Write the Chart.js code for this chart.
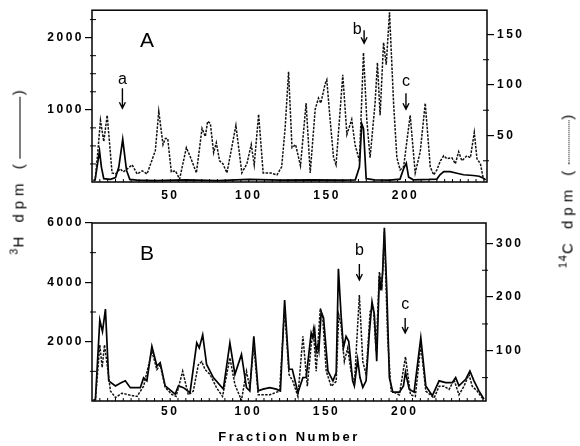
<!DOCTYPE html>
<html lang="en">
<head>
<meta charset="UTF-8">
<title>Fraction profiles A and B</title>
<script src="https://cdn.jsdelivr.net/npm/chart.js"></script>
<style>
  body { margin:0; background:#fff; width:580px; height:446px; position:relative; overflow:hidden; font-family:"Liberation Sans", Arial, sans-serif; }
  canvas { position:absolute; left:0; }
  #chartA { top:0; }
  #chartB { top:205px; }
  .ytitle { position:absolute; white-space:nowrap; font-size:15px; letter-spacing:5px; color:#000; transform:translate(-50%,-50%) rotate(-90deg); }
  .ytitle sup { font-size:11px; letter-spacing:1px; }
  .key { display:inline-block; vertical-align:middle; margin:0 1px; height:0; }
</style>
</head>
<body>

<canvas id="chartA" width="580" height="205"></canvas>
<canvas id="chartB" width="580" height="241"></canvas>
<div class="ytitle" style="left:17px; top:170px;"><sup>3</sup>H dpm (<span class="key" style="width:62px; border-top:1.5px solid #000;"></span>)</div>
<div class="ytitle" style="left:566px; top:189px;"><sup>14</sup>C dpm (<span class="key" style="width:44px; border-top:1.5px dotted #000;"></span>)</div>

<script>
// tick values
const xMajor = [50, 100, 150, 200];
const xMinor = [5,10,15,20,25,30,35,40,45,55,60,65,70,75,80,85,90,95,105,110,115,120,125,130,135,140,145,155,160,165,170,175,180,185,190,195,205,210,215,220,225,230,235,240,245,250];
const ticksA3H = [1000, 2000];
const minorA3H = [250, 500, 750, 1250, 1500, 1750, 2250];
const ticksA14C = [50, 100, 150];
const minorA14C = [25, 75, 125];
const ticksB3H = [2000, 4000, 6000];
const minorB3H = [1000, 3000, 5000];
const ticksB14C = [100, 200, 300];
const minorB14C = [50, 150, 250];

// panel A, 3H (solid)
const fracA3H = [1, 2, 4.8, 6, 7.5, 11.8, 15, 17.1, 19.6, 22, 24.1, 28.8, 40, 60, 80, 100, 120, 140, 160, 168, 170.6, 172.1, 173.2, 174.9, 180, 190, 196.5, 198.8, 200.5, 202, 205, 215, 220, 222, 224.4, 228.5, 232.8, 237, 243.3, 247, 249.4, 251];
const dpmA3H  = [30, 33, 431, 207, 47, 36, 60, 207, 591, 164, 36, 25, 20, 30, 20, 35, 25, 30, 25, 30, 207, 806, 740, 47, 30, 25, 40, 185, 260, 68, 30, 35, 40, 100, 143, 143, 121, 100, 90, 80, 57, 30];

// panel A, 14C (dotted)
const fracA14C = [1, 2, 3.5, 5.4, 7.5, 9.7, 12.8, 15, 18, 20, 22.5, 25.6, 28.8, 32, 35.1, 37.2, 40.4, 42.6, 45.3, 46.8, 48.3, 50.6, 53.2, 55.9, 60.2, 62.7, 66.6, 70.2, 72.3, 73.8, 75.5, 77.6, 79.3, 81.4, 83.5, 86.1, 91.8, 95.6, 98.8, 101.6, 103.5, 106.3, 109.2, 113.9, 118, 121, 123.2, 125.4, 127.6, 129.9, 133, 136.6, 139.2, 142.4, 144.5, 146, 148.7, 149.8, 151.9, 154.1, 155.7, 160, 162.6, 165.7, 167.8, 170.6, 173.2, 175.3, 177.4, 180.6, 182.1, 183.8, 186, 187.7, 189.8, 192.4, 194.5, 196.6, 198.8, 203, 206.2, 209.4, 212.6, 215.8, 218, 220, 222.3, 224.4, 226.5, 229.6, 231.8, 233.9, 236, 239.2, 241.4, 243.9, 245.6, 247.8, 249.4, 251];
const dpmA14C  = [5, 6, 30, 65, 44, 70, 13, 12, 17, 14, 17, 21, 12, 15, 12, 21, 35, 74, 41, 47, 47, 14, 15, 7, 38, 29, 13, 57, 49, 64, 62, 33, 43, 25, 22, 13, 60, 13, 22, 41, 21, 71, 13, 13, 11, 19, 57, 113, 38, 41, 20, 82, 13, 76, 87, 82, 101, 105, 66, 28, 21, 110, 51, 66, 41, 25, 132, 66, 28, 82, 122, 70, 142, 120, 172, 82, 28, 16, 19, 70, 13, 34, 82, 19, 11, 16, 25, 30, 27, 28, 22, 34, 25, 30, 28, 53, 27, 22, 9, 6];

// panel B, 3H (solid)
const fracB3H = [1, 2.2, 5, 6.7, 8.6, 10.7, 15, 18, 21.3, 24.5, 30.9, 33, 35.1, 38.3, 41.5, 43.6, 46.8, 53.2, 55.3, 58.5, 62.7, 67, 68.6, 70.8, 73.3, 77.6, 84, 88.2, 91.4, 95.6, 98.8, 100.9, 103.5, 106.3, 109.4, 113.7, 117.9, 120.5, 123.2, 126, 128.1, 131.7, 134.9, 137, 140.2, 141.3, 142.4, 143.4, 144.5, 145.1, 146.6, 148.1, 150.9, 154.1, 156.2, 157.6, 159.3, 160.8, 162.5, 164.2, 166.7, 167.8, 169.9, 171.4, 173.2, 175.3, 177.4, 179.1, 180.6, 182.1, 183.8, 184.8, 185.9, 187, 188.5, 190.2, 192.4, 196.6, 199.2, 200.5, 202.9, 206, 210.3, 213.5, 217.7, 222, 226.2, 230.5, 232.6, 234.7, 239, 241.7, 244.3, 247.5, 250.7];
const dpmB3H  = [30, 60, 2730, 2340, 3100, 680, 510, 600, 680, 450, 450, 780, 680, 1840, 1180, 1290, 510, 230, 510, 450, 280, 1960, 1790, 2230, 1230, 790, 400, 1960, 900, 1570, 450, 340, 2180, 340, 400, 450, 400, 340, 3400, 1070, 1070, 280, 790, 800, 2300, 2130, 2410, 1670, 1890, 1700, 3010, 2800, 1010, 680, 960, 4460, 2900, 1790, 2180, 2010, 680, 510, 1400, 790, 460, 680, 2300, 3340, 2900, 1340, 4230, 3730, 4340, 5840, 3800, 790, 300, 300, 510, 970, 400, 300, 2130, 510, 180, 680, 620, 620, 790, 510, 730, 1010, 680, 340, 60];

// panel B, 14C (dotted)
const fracB14C = [1, 2.2, 5, 6.5, 8, 9.7, 11.8, 15, 19.2, 23.5, 28.8, 33, 38.3, 41.5, 43.6, 46.8, 51, 53.8, 58, 61.6, 64.8, 68, 70.2, 72.3, 75.5, 79.7, 83.5, 88.2, 91.4, 95.6, 98.8, 100.9, 103.5, 106.3, 113.7, 120, 123.2, 126, 128.5, 131.7, 134.9, 137.7, 140.2, 141.6, 143.4, 146, 147.6, 149.8, 153, 156.2, 157.8, 159.3, 161.4, 163.5, 165.7, 167.8, 171, 173.2, 175.3, 177.9, 180, 181.7, 183.8, 185.5, 187, 189.1, 191.3, 196.6, 200.5, 203.7, 206.8, 210.3, 213.5, 218.8, 222, 225.2, 228.4, 231.6, 234.7, 237.9, 241.1, 243.2, 246.4, 249.6];
const dpmB14C  = [8, 9, 111, 69, 111, 74, 25, 13, 21, 18, 15, 34, 99, 65, 74, 32, 19, 15, 62, 18, 25, 74, 80, 65, 56, 31, 15, 87, 37, 8, 62, 31, 111, 18, 18, 25, 179, 56, 43, 15, 127, 34, 111, 139, 62, 179, 161, 62, 34, 43, 167, 148, 80, 105, 62, 37, 204, 80, 56, 173, 179, 99, 247, 222, 321, 124, 25, 18, 89, 18, 15, 111, 25, 12, 34, 34, 28, 46, 18, 34, 56, 34, 25, 12];

const FONT = '"Liberation Sans", Arial, sans-serif';

const framePlugin = {
  id: 'frame',
  beforeDraw(chart) { chart.ctx.letterSpacing = '2.5px'; },
  afterDraw(chart, args, o) {
    const ctx = chart.ctx, a = chart.chartArea, s = chart.scales;
    ctx.save();
    ctx.letterSpacing = '0px';
    ctx.strokeStyle = '#000';
    ctx.fillStyle = '#000';
    ctx.lineWidth = 1.5;
    ctx.strokeRect(a.left, a.top, a.right - a.left, a.bottom - a.top);
    // minor ticks
    ctx.lineWidth = 1;
    ctx.beginPath();
    o.minorL.forEach(v => { const y = s.yL.getPixelForValue(v); ctx.moveTo(a.left - 2, y); ctx.lineTo(a.left + 4, y); });
    o.minorR.forEach(v => { const y = s.yR.getPixelForValue(v); ctx.moveTo(a.right - 4, y); ctx.lineTo(a.right + 2, y); });
    xMinor.concat(xMajor).forEach(v => { const x = s.x.getPixelForValue(v); ctx.moveTo(x, a.bottom); ctx.lineTo(x, a.bottom - 3); });
    ctx.stroke();
    // panel letter
    ctx.textAlign = 'center';
    ctx.textBaseline = 'middle';
    ctx.font = '21px ' + FONT;
    ctx.fillText(o.panel, a.left + 55, a.top + 31);
    // arrows
    ctx.font = '16px ' + FONT;
    ctx.lineWidth = 1.4;
    o.marks.forEach(m => {
      const x = s.x.getPixelForValue(m.frac);
      ctx.fillText(m.text, x + m.dx, a.top + m.ty);
      ctx.beginPath();
      ctx.moveTo(x, a.top + m.y0);
      ctx.lineTo(x, a.top + m.y1);
      ctx.moveTo(x - 3, a.top + m.y1 - 6);
      ctx.lineTo(x, a.top + m.y1);
      ctx.lineTo(x + 3, a.top + m.y1 - 6);
      ctx.stroke();
    });
    ctx.restore();
  }
};

function pts(fr, vals) { return fr.map((f, i) => ({ x: f, y: vals[i] })); }

function makeChart(id, c) {
  const tickFont = { family: FONT, size: 12, weight: 'bold' };
  return new Chart(document.getElementById(id), {
    type: 'line',
    data: {
      datasets: [
        { data: pts(c.fr14C, c.v14C), yAxisID: 'yR', borderColor: '#111', borderWidth: 1.5, borderDash: [2.5, 1.3] },
        { data: pts(c.fr3H, c.v3H), yAxisID: 'yL', borderColor: '#000', borderWidth: 1.7 }
      ]
    },
    options: {
      responsive: false,
      animation: false,
      events: [],
      layout: { padding: { top: c.top, left: 0, right: 0, bottom: 0 } },
      elements: { point: { radius: 0 }, line: { tension: 0 } },
      plugins: { legend: { display: false }, tooltip: { enabled: false }, frame: c.frame },
      scales: {
        x: {
          type: 'linear', min: 0, max: 252,
          afterBuildTicks: sc => { sc.ticks = xMajor.map(v => ({ value: v })); },
          afterFit: sc => { sc.height = c.xH; },
          grid: { display: false, drawTicks: false },
          border: { display: false },
          ticks: { padding: c.xPad, color: '#000', maxRotation: 0, autoSkip: false, font: tickFont, callback: v => String(v) },
          title: c.xTitle
        },
        yL: {
          position: 'left', min: c.yL[0], max: c.yL[1],
          afterBuildTicks: sc => { sc.ticks = c.ticksL.map(v => ({ value: v })); },
          afterFit: sc => { sc.width = 92; },
          grid: { drawOnChartArea: false, drawTicks: true, tickLength: 7, color: '#000', lineWidth: 1.2 },
          border: { display: false },
          ticks: { padding: 1, color: '#000', font: tickFont, callback: v => String(v) }
        },
        yR: {
          position: 'right', min: c.yR[0], max: c.yR[1],
          afterBuildTicks: sc => { sc.ticks = c.ticksR.map(v => ({ value: v })); },
          afterFit: sc => { sc.width = c.rW; },
          grid: { drawOnChartArea: false, drawTicks: true, tickLength: 7, color: '#000', lineWidth: 1.2 },
          border: { display: false },
          ticks: { padding: 3, color: '#000', font: tickFont, callback: v => String(v) }
        }
      }
    },
    plugins: [framePlugin]
  });
}

makeChart('chartA', {
  fr3H: fracA3H, v3H: dpmA3H, fr14C: fracA14C, v14C: dpmA14C,
  top: 4, xH: 23, xPad: 6, rW: 93,
  yL: [0, 2380], yR: [4, 174], ticksL: ticksA3H, ticksR: ticksA14C,
  xTitle: { display: false },
  frame: {
    panel: 'A', minorL: minorA3H, minorR: minorA14C,
    marks: [
      { frac: 19.4, text: 'a', dx: 0, ty: 69, y0: 78, y1: 98 },
      { frac: 173.6, text: 'b', dx: -7, ty: 19, y0: 20, y1: 33 },
      { frac: 200.3, text: 'c', dx: 0, ty: 71, y0: 83, y1: 99 }
    ]
  }
});

makeChart('chartB', {
  fr3H: fracB3H, v3H: dpmB3H, fr14C: fracB14C, v14C: dpmB14C,
  top: 18, xH: 45, xPad: 3, rW: 94,
  yL: [0, 6000], yR: [6.5, 338], ticksL: ticksB3H, ticksR: ticksB14C,
  xTitle: { display: true, text: 'Fraction Number', color: '#000', padding: { top: 0, bottom: 1 }, font: { family: FONT, size: 13, weight: 'bold' } },
  frame: {
    panel: 'B', minorL: minorB3H, minorR: minorB14C,
    marks: [
      { frac: 171, text: 'b', dx: 0, ty: 28, y0: 41, y1: 57 },
      { frac: 200.3, text: 'c', dx: 0, ty: 82, y0: 95, y1: 110 }
    ]
  }
});
</script>
</body>
</html>
